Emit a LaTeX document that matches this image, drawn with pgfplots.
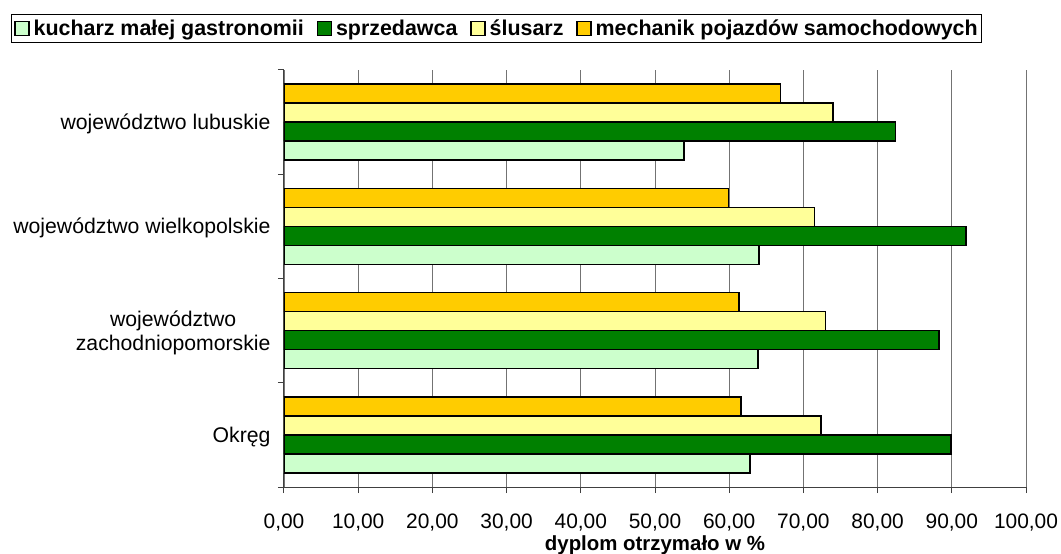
\documentclass[border=0pt]{standalone}
\usepackage{fontspec}
\setmainfont{Liberation Sans}
\usepackage{pgfplots}
\pgfplotsset{compat=1.18}
\definecolor{cKuch}{HTML}{CCFFCC}
\definecolor{cSprz}{HTML}{008000}
\definecolor{cSlus}{HTML}{FFFF99}
\definecolor{cMech}{HTML}{FFCC00}
\begin{document}
\begin{tikzpicture}
\begin{axis}[name=ax,
  scale only axis, width=742bp, height=417bp,
  xbar=0pt, bar width=19bp,
  xmin=0, xmax=100, ymin=-0.5, ymax=3.5,
  axis lines=left, axis line style={-, draw=black!75, line width=1bp},
  xtick={0,10,...,100},
  xmajorgrids, grid style={black!55, line width=0.7bp},
  tick align=outside, major tick length=6bp, minor tick length=6bp,
  xtick pos=bottom, ytick pos=left,
  x tick style={black!75, line width=1bp},
  major y tick style={draw=none},
  minor y tick style={black!75, line width=1bp},
  ytick={0,1,2,3},
  minor ytick={-0.5,0.5,1.5,2.5,3.5},
  yticklabels={Okręg, {województwo\\zachodniopomorskie}, województwo wielkopolskie, województwo lubuskie},
  y tick label style={align=center, font=\fontsize{21.3}{24}\selectfont, xshift=-4bp, yshift=-2bp},
  x tick label style={font=\fontsize{21}{24}\selectfont, yshift=-17bp},
  /pgf/number format/assume math mode=true,
  xticklabel={\pgfmathprintnumber[fixed, fixed zerofill, precision=2, use comma, 1000 sep={}]{\tick}},
  xlabel={\textbf{dyplom otrzymało w \%}},
  xlabel style={font=\fontsize{20.5}{24}\selectfont, at={(axis description cs:0.5,0)}, anchor=center, yshift=-58bp},
  legend columns=-1,
  legend style={at={(axis description cs:0.2865,1.1)}, anchor=center,
    draw=black, line width=1bp, font=\fontsize{21.5}{25}\selectfont\bfseries,
    inner xsep=3bp, inner ysep=3.5bp,
    nodes={inner xsep=1bp},
    /tikz/every odd column/.append style={column sep=3bp},
    /tikz/every even column/.append style={column sep=12bp}},
  legend image code/.code={\draw[#1, draw=black, line width=1.2bp] (0bp,-7bp) rectangle (14bp,7bp);},
]
\addplot[fill=cKuch, draw=black, line width=1.6bp] coordinates {(62.8,0) (63.9,1) (64.0,2) (53.9,3)};
\addplot[fill=cSprz, draw=black, line width=1.6bp] coordinates {(89.9,0) (88.3,1) (91.9,2) (82.4,3)};
\addplot[fill=cSlus, draw=black, line width=1.6bp] coordinates {(72.4,0) (73.0,1) (71.5,2) (74.0,3)};
\addplot[fill=cMech, draw=black, line width=1.6bp] coordinates {(61.6,0) (61.3,1) (59.9,2) (66.9,3)};
\legend{kucharz małej gastronomii, sprzedawca, ślusarz, mechanik pojazdów samochodowych}
\end{axis}
\pgfresetboundingbox
\path ([xshift=-284bp,yshift=-67bp]ax.south west) rectangle ([xshift=35bp,yshift=70bp]ax.north east);
\end{tikzpicture}
\end{document}
